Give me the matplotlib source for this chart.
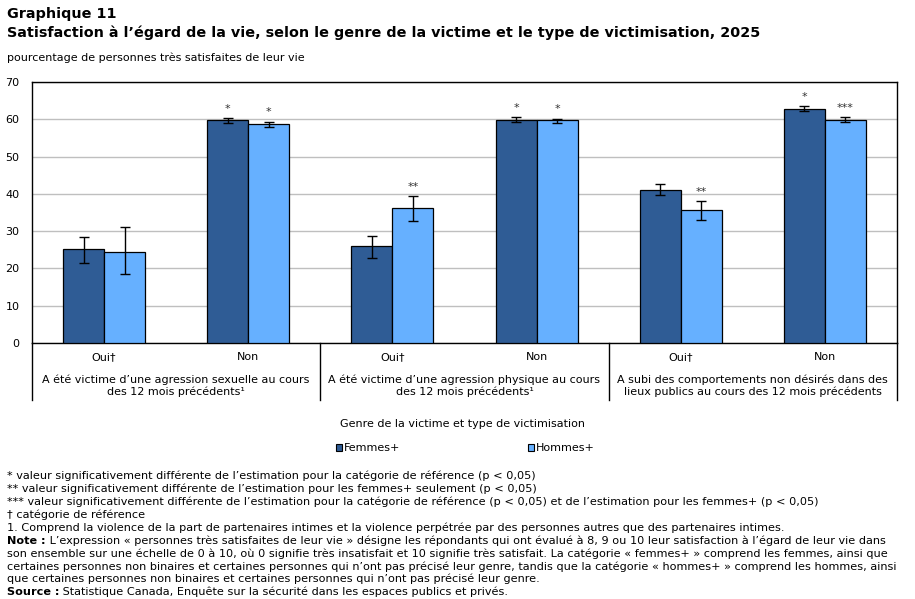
import matplotlib
matplotlib.use("Agg")
import matplotlib.pyplot as plt
import matplotlib.transforms as mtransforms
from matplotlib.patches import Patch
import numpy as np

plt.rcParams['font.family'] = ['DejaVu Sans']

# data
sub_labels = ['Oui†', 'Non', 'Oui†', 'Non', 'Oui†', 'Non']
group_labels = ['A été victime d’une agression sexuelle au cours\ndes 12 mois précédents¹',
                'A été victime d’une agression physique au cours\ndes 12 mois précédents¹',
                'A subi des comportements non désirés dans des\nlieux publics au cours des 12 mois précédents']
femmes = [25.2, 59.7, 26.0, 59.7, 41.0, 62.7]
femmes_lo = [21.4, 59.0, 22.8, 59.2, 39.6, 62.1]
femmes_hi = [28.4, 60.3, 28.7, 60.5, 42.6, 63.5]
femmes_sig = ['', '*', '', '*', '', '*']
hommes = [24.4, 58.7, 36.2, 59.7, 35.6, 59.7]
hommes_lo = [18.5, 58.0, 32.7, 58.9, 32.9, 59.2]
hommes_hi = [31.1, 59.4, 39.5, 60.2, 38.0, 60.5]
hommes_sig = ['', '*', '**', '*', '**', '***']

dark = '#2F5C95'
light = '#66B0FF'
fs = 8

fig = plt.figure(figsize=(9.15, 5.99), dpi=100)
ax = fig.add_axes([32/915, 1-343/599, 865/915, 261/599])

x = np.arange(len(sub_labels))
w = 0.284
for vals, lo, hi, sig, off, col in [(femmes, femmes_lo, femmes_hi, femmes_sig, -w/2, dark),
                                     (hommes, hommes_lo, hommes_hi, hommes_sig, w/2, light)]:
    vals = np.array(vals); lo = np.array(lo); hi = np.array(hi)
    ax.bar(x + off, vals, w, color=col, edgecolor='black', linewidth=0.9, zorder=3)
    ax.errorbar(x + off, vals, yerr=[vals - lo, hi - vals], fmt='none', ecolor='black',
                elinewidth=1, capsize=3.5, capthick=1, zorder=4)
    for xi, h, s in zip(x + off, hi, sig):
        if s:
            ax.annotate(s, (xi, h), xytext=(0, 3), textcoords='offset points',
                        ha='center', va='bottom', fontsize=fs, color='#333333')

ax.set_xlim(-0.5, 5.5)
ax.set_ylim(0, 70)
ax.set_yticks(range(0, 71, 10))
ax.yaxis.grid(True, color='#BFBFBF', linewidth=1, zorder=0)
ax.set_axisbelow(True)
ax.tick_params(axis='y', length=0, pad=9, labelsize=fs)
ax.tick_params(axis='x', length=0)
ax.set_xticks([])
for sp in ax.spines.values():
    sp.set_color('black')
    sp.set_linewidth(1)

# category labels below the axis
trans = mtransforms.blended_transform_factory(ax.transData, ax.transAxes)
for xi, lab in zip(x, sub_labels):
    ax.text(xi, -14/261, lab, transform=trans, ha='center', va='center', fontsize=fs)
for gi, lab in enumerate(group_labels):
    ax.text(2*gi + 0.5, -43/261, lab, transform=trans, ha='center', va='center',
            fontsize=fs, linespacing=1.2)
for xb in [-0.5, 1.5, 3.5, 5.5]:
    ax.plot([xb, xb], [0, -57/261], transform=trans, color='black', linewidth=1,
            clip_on=False)

fig.text(463/915, 1-424/599, 'Genre de la victime et type de victimisation',
         ha='center', va='center', fontsize=fs)
handles = [Patch(facecolor=dark, edgecolor='black', linewidth=0.8),
           Patch(facecolor=light, edgecolor='black', linewidth=0.8)]
fig.legend(handles, ['Femmes+', 'Hommes+'], loc='center', bbox_to_anchor=(465/915, 1-448/599),
           ncol=2, frameon=False, fontsize=fs, handlelength=0.6, handleheight=0.6,
           handletextpad=0.1, columnspacing=11.5)

# titles
fig.text(7/915, 1-14/599, 'Graphique 11', ha='left', va='center', fontsize=10.4, fontweight='bold')
fig.text(7/915, 1-33/599,
         'Satisfaction à l’égard de la vie, selon le genre de la victime et le type de victimisation, 2025',
         ha='left', va='center', fontsize=10.4, fontweight='bold')
fig.text(7/915, 1-58/599, 'pourcentage de personnes très satisfaites de leur vie',
         ha='left', va='center', fontsize=fs)

# footnotes
notes = [
    ('', '* valeur significativement différente de l’estimation pour la catégorie de référence (p < 0,05)'),
    ('', '** valeur significativement différente de l’estimation pour les femmes+ seulement (p < 0,05)'),
    ('', '*** valeur significativement différente de l’estimation pour la catégorie de référence (p < 0,05) et de l’estimation pour les femmes+ (p < 0,05)'),
    ('', '† catégorie de référence'),
    ('', '1. Comprend la violence de la part de partenaires intimes et la violence perpétrée par des personnes autres que des partenaires intimes.'),
    ('Note :', ' L’expression « personnes très satisfaites de leur vie » désigne les répondants qui ont évalué à 8, 9 ou 10 leur satisfaction à l’égard de leur vie dans'),
    ('', 'son ensemble sur une échelle de 0 à 10, où 0 signifie très insatisfait et 10 signifie très satisfait. La catégorie « femmes+ » comprend les femmes, ainsi que'),
    ('', 'certaines personnes non binaires et certaines personnes qui n’ont pas précisé leur genre, tandis que la catégorie « hommes+ » comprend les hommes, ainsi'),
    ('', 'que certaines personnes non binaires et certaines personnes qui n’ont pas précisé leur genre.'),
    ('Source :', ' Statistique Canada, Enquête sur la sécurité dans les espaces publics et privés.'),
]
renderer = fig.canvas.get_renderer()
y0 = 476
for i, (bold, txt) in enumerate(notes):
    yy = 1 - (y0 + 12.9*i)/599
    xx = 7/915
    if bold:
        t = fig.text(xx, yy, bold, ha='left', va='center', fontsize=8.1, fontweight='bold')
        bb = t.get_window_extent(renderer)
        xx = bb.x1/fig.bbox.width
    fig.text(xx, yy, txt, ha='left', va='center', fontsize=8.1)

fig.savefig('out.png', dpi=100)
